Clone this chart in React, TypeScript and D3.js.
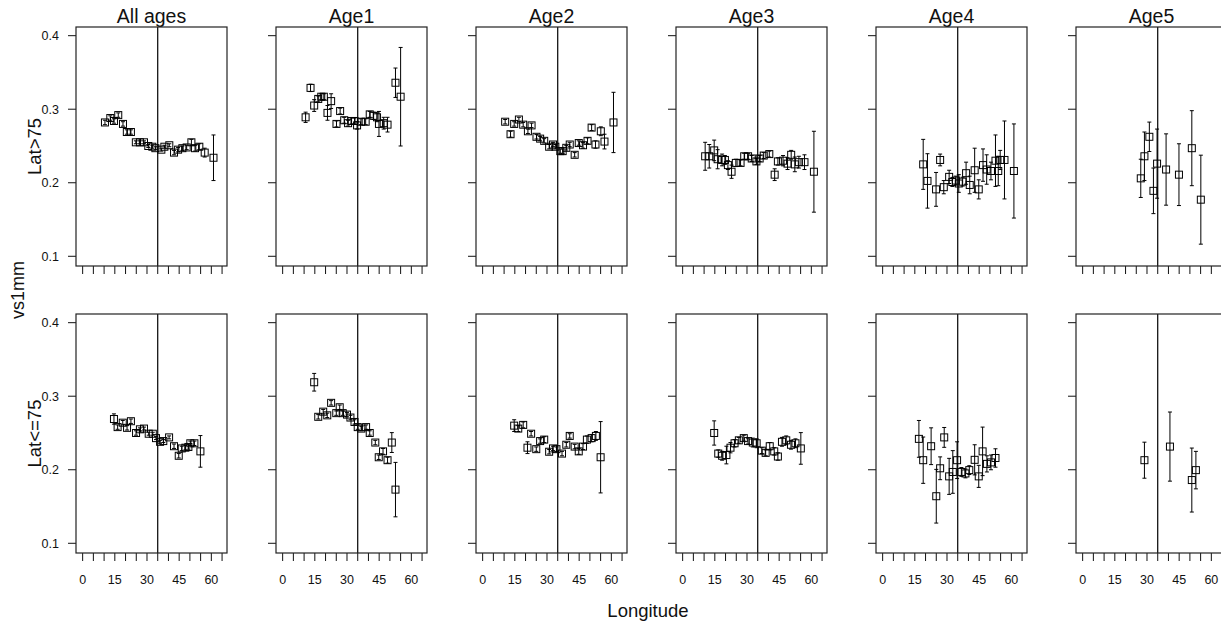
import React from "react";
import * as d3 from "d3";

// [longitude, vs1mm, error half-width]
const allAgesHigh = [
  [10.4, 0.282, 0.003], [12.9, 0.288, 0.003], [14.6, 0.284, 0.003], [16.6, 0.292, 0.003],
  [18.8, 0.28, 0.003], [20.6, 0.269, 0.003], [22.5, 0.269, 0.003], [24.8, 0.255, 0.002],
  [26.7, 0.255, 0.002], [28.6, 0.255, 0.002], [30.6, 0.25, 0.002], [32.5, 0.249, 0.002],
  [33.9, 0.247, 0.002], [36.7, 0.245, 0.002], [38.1, 0.249, 0.002], [40.4, 0.251, 0.002],
  [42.6, 0.241, 0.003], [44.5, 0.245, 0.003], [46.5, 0.247, 0.003], [48.5, 0.248, 0.003],
  [50.7, 0.255, 0.004], [52.4, 0.247, 0.004], [54.4, 0.249, 0.004], [56.9, 0.241, 0.006],
  [61.0, 0.234, 0.031],
];
const allAgesLow = [
  [14.6, 0.269, 0.007], [16.3, 0.258, 0.003], [18.7, 0.264, 0.003], [20.7, 0.257, 0.003],
  [22.5, 0.266, 0.003], [24.9, 0.25, 0.003], [26.7, 0.255, 0.002], [28.6, 0.256, 0.002],
  [30.8, 0.249, 0.002], [32.7, 0.249, 0.002], [34.2, 0.243, 0.002], [36.1, 0.238, 0.002],
  [37.6, 0.239, 0.002], [40.3, 0.244, 0.002], [42.6, 0.232, 0.003], [44.8, 0.219, 0.003],
  [46.2, 0.229, 0.003], [47.9, 0.23, 0.003], [49.3, 0.231, 0.003], [50.2, 0.236, 0.003],
  [52.1, 0.236, 0.003], [54.9, 0.225, 0.0215],
];
const age1High = [
  [10.7, 0.289, 0.007], [13.0, 0.329, 0.005], [14.7, 0.305, 0.008], [16.6, 0.314, 0.004],
  [18.0, 0.317, 0.004], [19.2, 0.317, 0.004], [20.9, 0.295, 0.01], [22.6, 0.311, 0.01],
  [25.1, 0.28, 0.004], [26.8, 0.2975, 0.004], [28.7, 0.285, 0.004], [30.5, 0.281, 0.004],
  [32.1, 0.284, 0.004], [33.5, 0.284, 0.004], [34.7, 0.278, 0.005], [36.5, 0.283, 0.004],
  [38.7, 0.283, 0.004], [40.6, 0.293, 0.004], [42.4, 0.291, 0.005], [44.0, 0.289, 0.006],
  [44.9, 0.28, 0.017], [47.1, 0.281, 0.008], [48.9, 0.279, 0.01], [52.6, 0.336, 0.02],
  [55.0, 0.317, 0.067],
];
const age1Low = [
  [14.7, 0.319, 0.012], [16.6, 0.272, 0.003], [18.9, 0.279, 0.003], [20.8, 0.274, 0.003],
  [22.6, 0.291, 0.003], [25.0, 0.277, 0.003], [26.6, 0.285, 0.003], [28.0, 0.277, 0.003],
  [30.0, 0.275, 0.003], [31.6, 0.271, 0.003], [33.5, 0.265, 0.003], [35.0, 0.258, 0.003],
  [36.7, 0.256, 0.003], [38.9, 0.258, 0.003], [40.6, 0.25, 0.003], [43.2, 0.237, 0.003],
  [44.8, 0.217, 0.003], [46.8, 0.225, 0.004], [48.9, 0.213, 0.004], [50.9, 0.237, 0.0135],
  [52.6, 0.173, 0.037],
];
const age2High = [
  [10.5, 0.283, 0.003], [13.0, 0.266, 0.004], [14.7, 0.28, 0.003], [16.9, 0.286, 0.003],
  [18.9, 0.279, 0.003], [21.1, 0.27, 0.003], [22.8, 0.278, 0.003], [25.1, 0.2625, 0.003],
  [26.8, 0.26, 0.003], [28.7, 0.257, 0.003], [31.0, 0.249, 0.003], [32.8, 0.252, 0.003],
  [33.9, 0.249, 0.003], [36.2, 0.243, 0.003], [37.3, 0.243, 0.003], [39.0, 0.2475, 0.003],
  [40.6, 0.252, 0.003], [42.9, 0.238, 0.003], [44.8, 0.254, 0.003], [46.8, 0.251, 0.004],
  [48.9, 0.257, 0.004], [50.8, 0.275, 0.004], [52.6, 0.252, 0.005], [55.1, 0.27, 0.006],
  [56.8, 0.256, 0.01], [61.0, 0.282, 0.041],
];
const age2Low = [
  [14.7, 0.26, 0.008], [16.6, 0.256, 0.004], [18.9, 0.261, 0.004], [20.9, 0.23, 0.008],
  [22.6, 0.249, 0.003], [25.0, 0.228, 0.003], [26.8, 0.239, 0.003], [28.7, 0.241, 0.004],
  [31.0, 0.2245, 0.003], [32.8, 0.229, 0.003], [34.4, 0.228, 0.003], [37.0, 0.222, 0.003],
  [39.0, 0.234, 0.003], [40.6, 0.246, 0.003], [42.9, 0.2315, 0.003], [44.8, 0.225, 0.004],
  [46.8, 0.2315, 0.004], [48.6, 0.241, 0.005], [50.8, 0.243, 0.005], [52.8, 0.246, 0.006],
  [55.0, 0.217, 0.0485],
];
const age3High = [
  [10.5, 0.236, 0.019], [12.4, 0.236, 0.016], [14.7, 0.244, 0.014], [16.3, 0.232, 0.013],
  [18.4, 0.231, 0.008], [19.7, 0.231, 0.006], [21.1, 0.224, 0.006], [22.8, 0.215, 0.009],
  [24.8, 0.227, 0.005], [27.0, 0.227, 0.004], [28.7, 0.236, 0.004], [30.5, 0.236, 0.004],
  [32.2, 0.233, 0.004], [34.4, 0.229, 0.004], [35.9, 0.233, 0.004], [37.8, 0.237, 0.004],
  [40.4, 0.239, 0.004], [42.9, 0.211, 0.008], [44.4, 0.229, 0.005], [46.8, 0.23, 0.007],
  [48.9, 0.226, 0.008], [50.6, 0.238, 0.006], [52.3, 0.225, 0.01], [54.2, 0.228, 0.008],
  [56.8, 0.228, 0.01], [61.2, 0.215, 0.055],
];
const age3Low = [
  [14.7, 0.25, 0.0165], [16.6, 0.222, 0.005], [18.4, 0.219, 0.006], [20.4, 0.22, 0.012],
  [22.3, 0.23, 0.007], [24.2, 0.236, 0.005], [26.2, 0.24, 0.004], [28.5, 0.243, 0.004],
  [30.5, 0.239, 0.004], [32.7, 0.237, 0.006], [34.5, 0.236, 0.006], [36.9, 0.226, 0.004],
  [38.7, 0.223, 0.004], [40.6, 0.232, 0.005], [42.7, 0.225, 0.005], [44.4, 0.218, 0.005],
  [46.3, 0.238, 0.006], [48.3, 0.24, 0.006], [50.5, 0.234, 0.006], [52.6, 0.236, 0.006],
  [55.1, 0.229, 0.0215],
];
const age4High = [
  [18.9, 0.225, 0.034], [20.9, 0.2025, 0.037], [24.9, 0.191, 0.023], [26.8, 0.231, 0.008],
  [28.5, 0.194, 0.009], [31.0, 0.208, 0.009], [32.5, 0.201, 0.006], [34.1, 0.203, 0.006],
  [35.5, 0.199, 0.012], [37.3, 0.2015, 0.006], [38.9, 0.213, 0.015], [40.6, 0.197, 0.012],
  [42.9, 0.217, 0.03], [44.8, 0.191, 0.013], [46.8, 0.224, 0.022], [48.5, 0.218, 0.02],
  [50.5, 0.216, 0.012], [52.6, 0.23, 0.035], [53.9, 0.216, 0.02], [54.8, 0.231, 0.013],
  [56.8, 0.231, 0.053], [61.2, 0.216, 0.064],
];
const age4Low = [
  [16.9, 0.242, 0.025], [18.9, 0.213, 0.0315], [22.6, 0.232, 0.025], [25.0, 0.164, 0.0365],
  [26.8, 0.202, 0.0155], [28.7, 0.244, 0.0135], [31.0, 0.191, 0.0245], [32.7, 0.197, 0.029],
  [34.7, 0.213, 0.025], [36.7, 0.197, 0.006], [38.6, 0.195, 0.006], [40.4, 0.1995, 0.006],
  [42.9, 0.2135, 0.0205], [44.8, 0.191, 0.015], [46.6, 0.225, 0.033], [48.6, 0.208, 0.011],
  [50.5, 0.21, 0.01], [52.6, 0.216, 0.0125],
];
const age5High = [
  [27.1, 0.206, 0.026], [28.8, 0.236, 0.033], [31.1, 0.2625, 0.02], [33.0, 0.189, 0.031],
  [34.7, 0.226, 0.047], [38.9, 0.218, 0.0485], [44.9, 0.211, 0.042], [50.9, 0.247, 0.051],
  [55.1, 0.177, 0.0605],
];
const age5Low = [
  [28.8, 0.213, 0.0245], [40.7, 0.2315, 0.047], [50.9, 0.186, 0.0435], [52.8, 0.1995, 0.0255],
];

const panelTitles = ["All ages", "Age1", "Age2", "Age3", "Age4", "Age5"];
const rowLabels = ["Lat>75", "Lat<=75"];
const rowsData = [
  [allAgesHigh, age1High, age2High, age3High, age4High, age5High],
  [allAgesLow, age1Low, age2Low, age3Low, age4Low, age5Low],
];
const xTicks = d3.range(0, 66, 5);
const xTickLabels = [0, 15, 30, 45, 60];
const yTicks = [0.1, 0.2, 0.3, 0.4];
const refLongitude = 35;
const xLabel = "Longitude";
const yLabel = "vs1mm";

const W = 1221;
const H = 621;
const panelLeft0 = 76;
const panelStep = 200;
const panelW = 151;
const rowTops = [27, 314];
const panelH = 239;
const font = "'Liberation Sans', Arial, sans-serif";
const ink = "#111";

function Panel({ data, left, top, showY, showX }) {
  const x = d3.scaleLinear().domain([-3.1, 67.3]).range([left, left + panelW]);
  const y = d3.scaleLinear().domain([0.0868, 0.4118]).range([top + panelH, top]);
  const bottom = top + panelH;
  const s = 7;
  return (
    <g>
      {yTicks.map((t) => (
        <g key={"y" + t}>
          <line x1={left - 8} x2={left} y1={y(t)} y2={y(t)} stroke={ink} strokeWidth={1} />
          {showY && (
            <text x={left - 17} y={y(t)} dy="0.35em" textAnchor="end" fontSize={12.5} fill={ink} fontFamily={font}>
              {String(t)}
            </text>
          )}
        </g>
      ))}
      {xTicks.map((t) => (
        <line key={"x" + t} x1={x(t)} x2={x(t)} y1={bottom} y2={bottom + 8} stroke={ink} strokeWidth={1} />
      ))}
      {showX &&
        xTickLabels.map((t) => (
          <text key={"xl" + t} x={x(t)} y={bottom + 31} textAnchor="middle" fontSize={12.5} fill={ink} fontFamily={font}>
            {String(t)}
          </text>
        ))}
      <line x1={x(refLongitude)} x2={x(refLongitude)} y1={top} y2={bottom} stroke="#000" strokeWidth={1.2} />
      {data.map((d, i) => {
        const cx = x(d[0]);
        const cy = y(d[1]);
        const yHi = y(d[1] + d[2]);
        const yLo = y(d[1] - d[2]);
        return (
          <g key={i} stroke="#000" strokeWidth={1} fill="none">
            <line x1={cx} x2={cx} y1={yHi} y2={yLo} />
            <line x1={cx - 2} x2={cx + 2} y1={yHi} y2={yHi} />
            <line x1={cx - 2} x2={cx + 2} y1={yLo} y2={yLo} />
            <rect x={cx - s / 2} y={cy - s / 2} width={s} height={s} />
          </g>
        );
      })}
      <rect x={left} y={top} width={panelW} height={panelH} fill="none" stroke="#222" strokeWidth={1.2} />
    </g>
  );
}

export default function App() {
  return (
    <svg
      width={W}
      height={H}
      style={{ position: "absolute", left: 0, top: 0, background: "#fff" }}
    >
      <rect x={0} y={0} width={W} height={H} fill="#fff" />
      {panelTitles.map((t, c) => (
        <text
          key={t}
          x={panelLeft0 + c * panelStep + panelW / 2}
          y={23}
          textAnchor="middle"
          fontSize={19.5}
          fill={ink}
          fontFamily={font}
        >
          {t}
        </text>
      ))}
      {rowsData.map((row, r) =>
        row.map((data, c) => (
          <Panel
            key={r + "-" + c}
            data={data}
            left={panelLeft0 + c * panelStep}
            top={rowTops[r]}
            showY={c === 0}
            showX={r === 1}
          />
        ))
      )}
      {rowLabels.map((l, r) => (
        <text
          key={l}
          transform={`translate(41,${rowTops[r] + panelH / 2}) rotate(-90)`}
          textAnchor="middle"
          fontSize={18.5}
          fill={ink}
          fontFamily={font}
        >
          {l}
        </text>
      ))}
      <text
        transform={`translate(24,290) rotate(-90)`}
        textAnchor="middle"
        fontSize={18}
        fill={ink}
        fontFamily={font}
      >
        {yLabel}
      </text>
      <text x={648} y={617} textAnchor="middle" fontSize={18.5} fill={ink} fontFamily={font}>
        {xLabel}
      </text>
    </svg>
  );
}
